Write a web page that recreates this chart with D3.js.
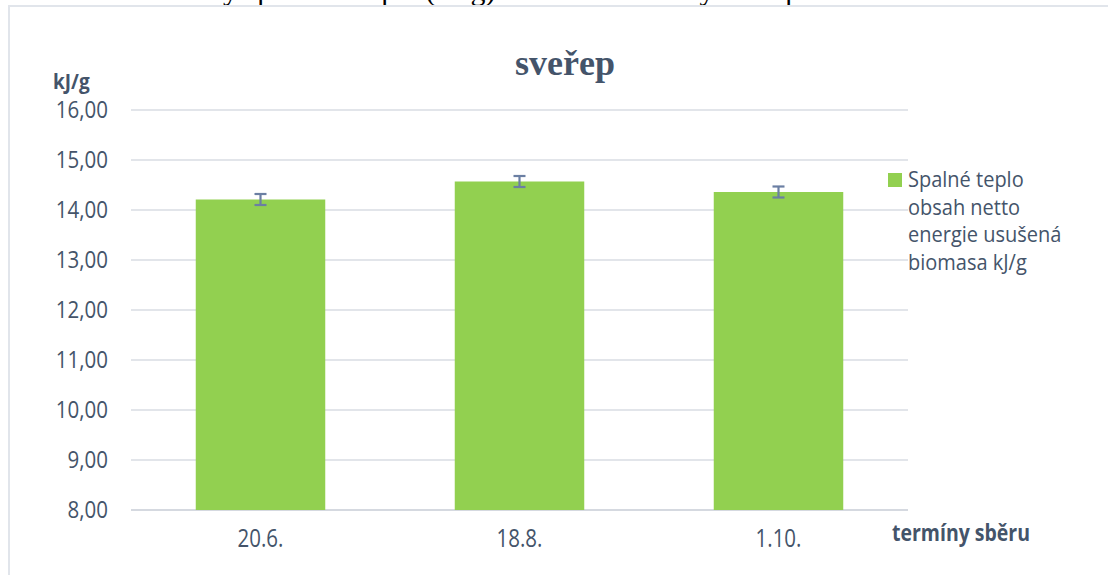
<!DOCTYPE html>
<html><head><meta charset="utf-8">
<script src="https://cdn.jsdelivr.net/npm/d3@7"></script>
<style>html,body{margin:0;padding:0;background:#fff;overflow:hidden}</style>
</head><body>
<svg id="c" width="1108" height="575"></svg>
<script>
const categories = ["20.6.", "18.8.", "1.10."];
const values = [14.21, 14.57, 14.36];
const errors = [0.11, 0.11, 0.11];
const yTicks = [8, 9, 10, 11, 12, 13, 14, 15, 16];
const seriesName = ["Spalné teplo", "obsah netto", "energie usušená", "biomasa kJ/g"];
const titleText = "sveřep";
const yAxisTitle = "kJ/g";
const xAxisTitle = "termíny sběru";
const captionText = "Průměrné hodnoty spalného tepla (kJ/g) u sušené biomasy sveřepu";

const svg = d3.select("#c");
const textColor = "#44546a";
const sans = "'Open Sans', sans-serif";

// cut-off document caption above the chart
const cap = svg.append("text").attr("y", 0).attr("font-family", "'Liberation Serif', serif")
  .attr("font-size", 30).attr("fill", "#000").text(captionText);
const idx = captionText.indexOf("y spal");
const pre = cap.node().getSubStringLength(0, idx);
cap.attr("x", 223 - pre);

// chart frame
svg.append("rect").attr("x", 9).attr("y", 6).attr("width", 1200).attr("height", 700)
  .attr("fill", "none").attr("stroke", "#e1e5eb").attr("stroke-width", 2);

const x = d3.scaleBand().domain(categories).range([131, 908]).paddingInner(0.5).paddingOuter(0.25);
const y = d3.scaleLinear().domain([8, 16]).range([510, 110]);

// helper: text stretched vertically around its baseline
function stretched(sel, px, py, sy) {
  return sel.attr("x", 0).attr("y", 0)
    .attr("transform", (d, i) => `translate(${px(d, i)},${py(d, i)}) scale(1,${sy})`);
}

// gridlines
svg.append("g").selectAll("line").data(yTicks).join("line")
  .attr("x1", 131).attr("x2", 908)
  .attr("y1", d => y(d)).attr("y2", d => y(d))
  .attr("stroke", d => d === 8 ? "#d5d9e0" : "#e2e5ea").attr("stroke-width", 2);

// y axis labels
stretched(svg.append("g").selectAll("text").data(yTicks).join("text"),
    () => 108, d => y(d) + 8, 1.13)
  .attr("text-anchor", "end").attr("font-family", sans).attr("font-size", 20.5)
  .attr("fill", textColor).text(d => d3.format(".2f")(d).replace(".", ","));

// bars
svg.append("g").selectAll("rect").data(values).join("rect")
  .attr("x", (d, i) => x(categories[i])).attr("width", x.bandwidth())
  .attr("y", d => y(d)).attr("height", d => y(8) - y(d))
  .attr("fill", "#92d050");

// error bars
const eb = svg.append("g").attr("stroke", "#6b7fa3").attr("stroke-width", 2.2);
values.forEach((v, i) => {
  const cx = x(categories[i]) + x.bandwidth() / 2;
  const y1 = y(v + errors[i]), y2 = y(v - errors[i]);
  eb.append("line").attr("x1", cx).attr("x2", cx).attr("y1", y1).attr("y2", y2);
  eb.append("line").attr("x1", cx - 6).attr("x2", cx + 6).attr("y1", y1).attr("y2", y1);
  eb.append("line").attr("x1", cx - 6).attr("x2", cx + 6).attr("y1", y2).attr("y2", y2);
});

// x labels
stretched(svg.append("g").selectAll("text").data(categories).join("text"),
    d => x(d) + x.bandwidth() / 2, () => 547, 1.2)
  .attr("text-anchor", "middle").attr("font-family", sans).attr("font-size", 20.5)
  .attr("fill", textColor).text(d => d);

// title
svg.append("text").attr("x", 565).attr("y", 75).attr("text-anchor", "middle")
  .attr("font-family", "'Liberation Serif', serif").attr("font-weight", "bold")
  .attr("font-size", 36).attr("fill", textColor).text(titleText);

// axis titles
stretched(svg.append("text"), () => 53, () => 89, 1.15).attr("font-family", sans)
  .attr("font-weight", "bold").attr("font-size", 19).attr("fill", textColor).text(yAxisTitle);
stretched(svg.append("text"), () => 892, () => 541, 1.2).attr("font-family", sans)
  .attr("font-weight", "bold").attr("font-size", 19.5).attr("fill", textColor).text(xAxisTitle);

// legend
svg.append("rect").attr("x", 888).attr("y", 173).attr("width", 14).attr("height", 14).attr("fill", "#92d050");
stretched(svg.append("g").selectAll("text").data(seriesName).join("text"),
    () => 908, (d, i) => 187 + i * 27.7, 1.1)
  .attr("font-family", sans).attr("font-size", 20).attr("fill", textColor).text(d => d);
</script>
</body></html>
